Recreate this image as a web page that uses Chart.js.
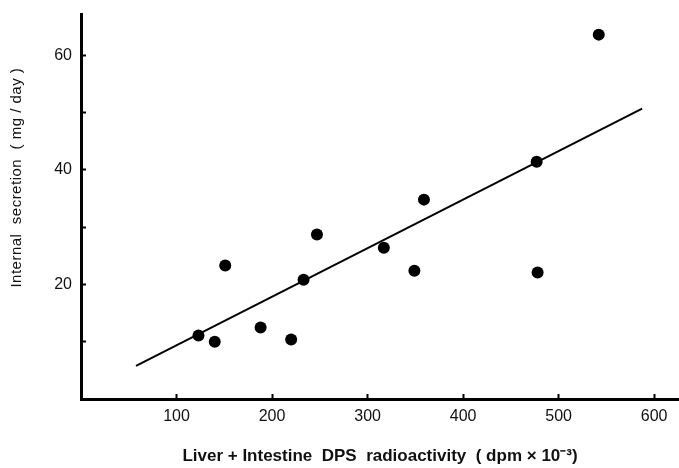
<!DOCTYPE html>
<html>
<head>
<meta charset="utf-8">
<script src="https://cdn.jsdelivr.net/npm/chart.js@4/dist/chart.umd.min.js"></script>
<style>
  html, body { margin: 0; padding: 0; background: #fff; }
  #c { display: block; }
</style>
</head>
<body>
<canvas id="c" width="679" height="468"></canvas>
<script>
// Data
const radioactivity = [123, 140, 151, 188, 220, 233, 247, 317, 349, 359, 477, 478, 542];
const secretion     = [11.1, 10.0, 23.3, 12.5, 10.4, 20.8, 28.7, 26.4, 22.4, 34.8, 41.4, 22.1, 63.6];
const fitX = [57.6, 587.4];
const fitY = [5.8, 50.7];
const xTicks = [100, 200, 300, 400, 500, 600];
const yTicks = [10, 20, 30, 40, 50, 60];
const yLabelled = [20, 40, 60];
const xTitle = 'Liver + Intestine  DPS  radioactivity  ( dpm \u00D7 10\u207B\u00B3)';
const yTitle = 'Internal  secretion  ( mg / day )';

const points = radioactivity.map((x, i) => ({ x: x, y: secretion[i] }));
const fitLine = fitX.map((x, i) => ({ x: x, y: fitY[i] }));

const yTitlePlugin = {
  id: 'yTitle',
  afterDraw(chart) {
    const { ctx, chartArea } = chart;
    ctx.save();
    ctx.font = '15px "Liberation Sans", Arial, sans-serif';
    try { ctx.letterSpacing = '0.5px'; } catch (e) {}
    ctx.fillStyle = '#111';
    ctx.textAlign = 'center';
    ctx.textBaseline = 'middle';
    const cy = chartArea.top + (chartArea.bottom - chartArea.top) * 0.425;
    ctx.translate(17, cy);
    ctx.rotate(-Math.PI / 2);
    ctx.fillText(yTitle, 0, 0);
    ctx.restore();
  }
};

new Chart(document.getElementById('c'), {
  type: 'scatter',
  data: {
    datasets: [
      {
        label: 'Observations',
        data: points,
        backgroundColor: '#000',
        borderColor: '#000',
        pointRadius: 6,
        pointHoverRadius: 6,
        pointBorderWidth: 0
      },
      {
        type: 'line',
        label: 'Regression',
        data: fitLine,
        borderColor: '#000',
        borderWidth: 2,
        pointRadius: 0,
        fill: false,
        tension: 0
      }
    ]
  },
  options: {
    responsive: false,
    animation: false,
    layout: { autoPadding: false, padding: { top: 14, right: 0, bottom: 0, left: 0 } },
    plugins: {
      legend: { display: false },
      tooltip: { enabled: false },
      title: { display: false }
    },
    scales: {
      x: {
        type: 'linear',
        min: 0,
        max: 626,
        afterBuildTicks: (s) => { s.ticks = xTicks.map(v => ({ value: v })); },
        afterFit: (s) => { s.height = 69; s.paddingLeft = 0; s.paddingRight = 0; },
        border: { display: true, color: '#000', width: 3 },
        grid: { display: true, drawOnChartArea: false, drawTicks: true, tickLength: -5, tickWidth: 2, tickColor: '#000' },
        ticks: {
          color: '#111',
          padding: 13,
          maxRotation: 0,
          font: { family: '"Liberation Sans", Arial, sans-serif', size: 16 },
          callback: (v) => String(v)
        },
        title: {
          display: true,
          text: xTitle,
          color: '#111',
          padding: { top: 0, bottom: 1 },
          font: { family: '"Liberation Sans", Arial, sans-serif', size: 17, weight: 'bold' }
        }
      },
      y: {
        type: 'linear',
        min: 0,
        max: 67.2,
        afterBuildTicks: (s) => { s.ticks = yTicks.map(v => ({ value: v })); },
        afterFit: (s) => { s.width = 81; s.paddingTop = 0; s.paddingBottom = 0; },
        border: { display: true, color: '#000', width: 3 },
        grid: { display: true, drawOnChartArea: false, drawTicks: true, tickLength: -5, tickWidth: 2, tickColor: '#000' },
        ticks: {
          color: '#111',
          padding: 14,
          font: { family: '"Liberation Sans", Arial, sans-serif', size: 16 },
          callback: (v) => (yLabelled.includes(v) ? String(v) : '')
        },
        title: { display: false }
      }
    }
  },
  plugins: [yTitlePlugin]
});
</script>
</body>
</html>
